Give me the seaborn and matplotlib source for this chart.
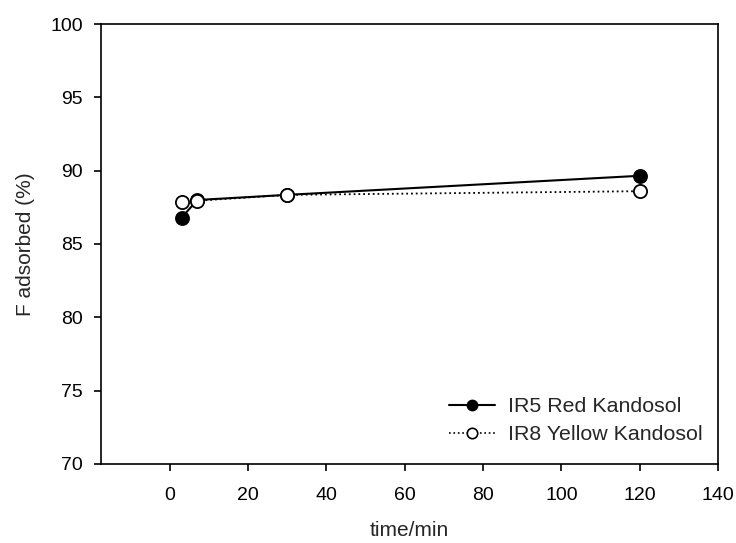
import matplotlib
matplotlib.use("Agg")
import matplotlib.pyplot as plt
import seaborn as sns
import pandas as pd
from matplotlib.lines import Line2D

time_min = [3, 7, 30, 120]
red_kandosol = [86.8, 88.0, 88.35, 89.65]
red_err = [0.2, 0.1, 0.1, 0.2]
yellow_kandosol = [87.85, 87.95, 88.35, 88.6]
yellow_err = [0.1, 0.1, 0.1, 0.15]
labels = ["IR5 Red Kandosol", "IR8 Yellow Kandosol"]

sns.set_style("ticks")
plt.rcParams['font.family'] = ['Liberation Sans', 'DejaVu Sans']

fig = plt.figure(figsize=(7.36, 5.43), dpi=100)
ax = fig.add_axes([0.1372, 0.1455, 0.8383, 0.8103])

df_red = pd.DataFrame({"t": time_min, "v": red_kandosol})
df_yel = pd.DataFrame({"t": time_min, "v": yellow_kandosol})

ax.errorbar(time_min, red_kandosol, yerr=red_err, fmt='none', ecolor='black',
            elinewidth=1, capsize=3, zorder=2)
ax.errorbar(time_min, yellow_kandosol, yerr=yellow_err, fmt='none', ecolor='black',
            elinewidth=1, capsize=3, zorder=2)

sns.lineplot(data=df_red, x="t", y="v", ax=ax, color='black', linewidth=1.5,
             marker='o', markersize=9.5, markerfacecolor='black',
             markeredgecolor='black', markeredgewidth=1.2, zorder=3)
sns.lineplot(data=df_yel, x="t", y="v", ax=ax, color='black', linewidth=1.3,
             linestyle=':', marker='o', markersize=9.5, markerfacecolor='white',
             markeredgecolor='black', markeredgewidth=1.3, zorder=4)

ax.set_xlim(-17.6, 140)
ax.set_ylim(70, 100)
ax.set_xticks([0, 20, 40, 60, 80, 100, 120, 140])
ax.set_yticks([70, 75, 80, 85, 90, 95, 100])
ax.tick_params(direction='out', length=5, width=1.2, labelsize=14, colors='black')
ax.tick_params(axis='x', pad=11.5)
ax.tick_params(axis='y', pad=8)
for s in ax.spines.values():
    s.set_linewidth(1.2)
    s.set_color('black')

ax.set_xlabel("time/min", fontsize=15, labelpad=12.5)
ax.set_ylabel("F adsorbed (%)", fontsize=15, labelpad=11)

handles = [
    Line2D([], [], color='black', linewidth=1.5, marker='o', markersize=7.5,
           markerfacecolor='black', markeredgecolor='black'),
    Line2D([], [], color='black', linewidth=1.2, linestyle=':', marker='o',
           markersize=7.5, markerfacecolor='white', markeredgecolor='black',
           markeredgewidth=1.2),
]
ax.legend(handles, labels, loc='lower left', frameon=False, fontsize=15.4,
          bbox_to_anchor=(0.564, 0.045), borderpad=0, borderaxespad=0,
          handlelength=2.15, handletextpad=0.6, labelspacing=0.42)

fig.savefig("out.png", dpi=100)
